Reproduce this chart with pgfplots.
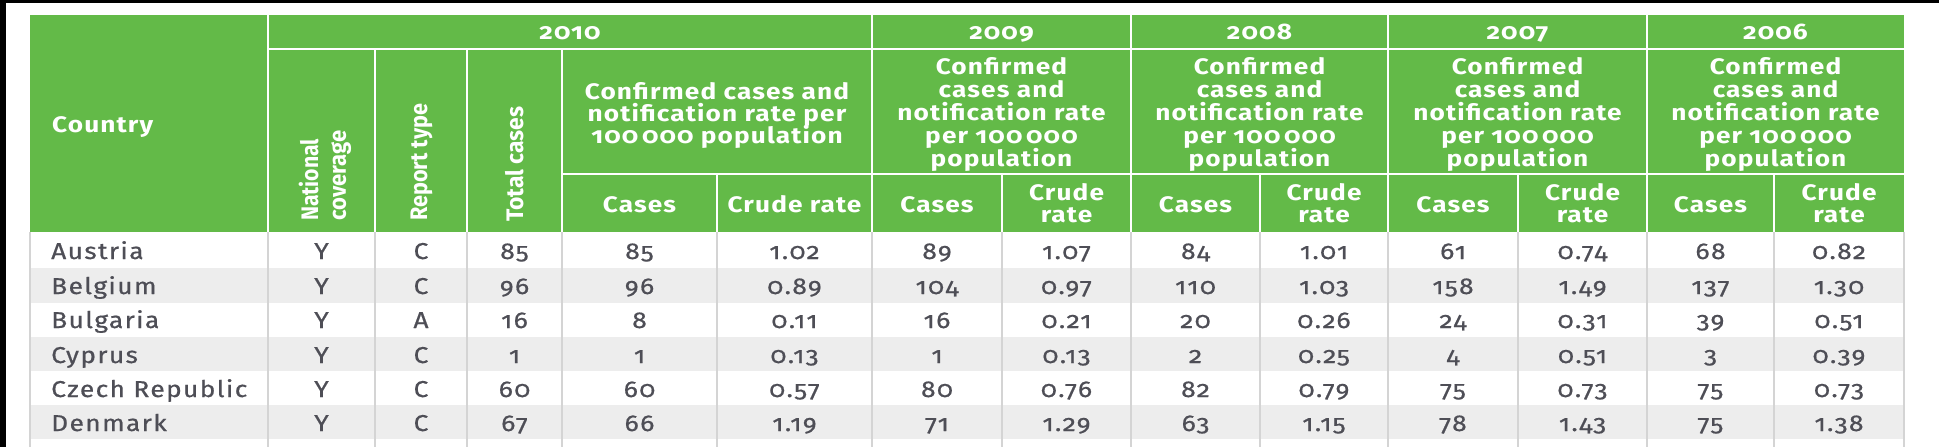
\documentclass[border=0pt]{standalone}
\usepackage{fontspec}
\setmainfont{Fira Sans}[Numbers=OldStyle]
\newfontfamily\dfam{Fira Sans}[Numbers=OldStyle, LetterSpace=6, FakeStretch=1.15, FakeBold=0.6]
\newfontfamily\hfam{Fira Sans}[Numbers=OldStyle, LetterSpace=5, FakeStretch=1.17]
\usepackage{graphicx}
\usepackage{pgfplots}
\usepackage{pgfplotstable}
\pgfplotsset{compat=1.18}

\definecolor{hdr}{RGB}{99,186,72}
\definecolor{stripe}{RGB}{237,237,237}
\definecolor{txt}{RGB}{78,78,86}
\definecolor{gridc}{RGB}{212,212,212}

\newcommand\dfont{\dfam\fontsize{23}{24}\selectfont}
\newcommand\hfont{\hfam\bfseries\fontsize{22.5}{23}\selectfont}
\newcommand\rfont{\rmfamily\bfseries\fontsize{24}{28}\selectfont}

\pgfplotstableread[col sep=comma]{
country,nc,rt,total,c10,r10,c09,r09,c08,r08,c07,r07,c06,r06,yb
Austria,Y,C,85,85,1.02,89,1.07,84,1.01,61,0.74,68,0.82,259
Belgium,Y,C,96,96,0.89,104,0.97,110,1.03,158,1.49,137,1.30,294
Bulgaria,Y,A,16,8,0.11,16,0.21,20,0.26,24,0.31,39,0.51,328
Cyprus,Y,C,1,1,0.13,1,0.13,2,0.25,4,0.51,3,0.39,363
Czech Republic,Y,C,60,60,0.57,80,0.76,82,0.79,75,0.73,75,0.73,397
Denmark,Y,C,67,66,1.19,71,1.29,63,1.15,78,1.43,75,1.38,431
}\data

\pgfplotsset{
  dcol/.style={draw=none, mark=none, nodes near coords, point meta=explicit symbolic,
    nodes near coords align={anchor=base},
    every node near coord/.append style={font=\dfont, text=txt, inner sep=0pt}},
}
\tikzset{ht/.style={anchor=base, text=white, font=\hfont, inner sep=0pt}}

\newcommand\fiveblock[1]{%
  \node[ht] at (axis cs:#1,75) {Confirmed};
  \node[ht] at (axis cs:#1,97.75) {cases and};
  \node[ht] at (axis cs:#1,120.5) {notification rate};
  \node[ht] at (axis cs:#1,143.25) {per 100\,000};
  \node[ht] at (axis cs:#1,166) {population};
}

\begin{document}
\begin{tikzpicture}
\begin{axis}[width=1939bp, height=447bp, scale only axis,
  xmin=0, xmax=1939, ymin=0, ymax=447, y dir=reverse,
  hide axis, clip=false, unbounded coords=jump]
% background and frame
\addplot[fill=white, draw=none] coordinates {(0,0) (1939,0) (1939,447) (0,447)} -- cycle;
\addplot[fill=black, draw=none] coordinates {(0,0) (1939,0) (1939,3) (0,3)} -- cycle;
\addplot[fill=black, draw=none] coordinates {(0,0) (6,0) (6,447) (0,447)} -- cycle;
% header
\addplot[fill=hdr, draw=none] coordinates {(30,15) (1904,15) (1904,232) (30,232)} -- cycle;
% stripes
\addplot[fill=stripe, draw=none] coordinates {(30,268) (1904,268) (1904,303) (30,303)} -- cycle;
\addplot[fill=stripe, draw=none] coordinates {(30,337) (1904,337) (1904,371) (30,371)} -- cycle;
\addplot[fill=stripe, draw=none] coordinates {(30,405) (1904,405) (1904,439) (30,439)} -- cycle;
% grey column rules in the body
\addplot[gridc, line width=1.5bp] coordinates {
 (30,232) (30,447) (30,nan)
 (268,232) (268,447) (268,nan)
 (375,232) (375,447) (375,nan)
 (467,232) (467,447) (467,nan)
 (562,232) (562,447) (562,nan)
 (717,232) (717,447) (717,nan)
 (872,232) (872,447) (872,nan)
 (1002,232) (1002,447) (1002,nan)
 (1131,232) (1131,447) (1131,nan)
 (1260,232) (1260,447) (1260,nan)
 (1388,232) (1388,447) (1388,nan)
 (1518,232) (1518,447) (1518,nan)
 (1647,232) (1647,447) (1647,nan)
 (1774,232) (1774,447) (1774,nan)
 (1904,232) (1904,447)};
% white header rules
\addplot[white, line width=2bp] coordinates {
 (268,15) (268,232) (268,nan)
 (872,15) (872,232) (872,nan)
 (1131,15) (1131,232) (1131,nan)
 (1388,15) (1388,232) (1388,nan)
 (1647,15) (1647,232) (1647,nan)
 (375,49) (375,232) (375,nan)
 (467,49) (467,232) (467,nan)
 (562,49) (562,232) (562,nan)
 (268,49) (1904,49) (1904,nan)
 (562,174) (1904,174) (1904,nan)
 (717,174) (717,232) (717,nan)
 (1002,174) (1002,232) (1002,nan)
 (1260,174) (1260,232) (1260,nan)
 (1518,174) (1518,232) (1518,nan)
 (1774,174) (1774,232)};
% header text
\node[ht, anchor=base west] at (axis cs:52,132) {Country};
\node[ht] at (axis cs:570,40) {2010};
\node[ht] at (axis cs:1001.5,40) {2009};
\node[ht] at (axis cs:1259.5,40) {2008};
\node[ht] at (axis cs:1517.5,40) {2007};
\node[ht] at (axis cs:1775.5,40) {2006};
\node[ht] at (axis cs:717,99) {Confirmed cases and};
\node[ht] at (axis cs:717,121) {notification rate per};
\node[ht] at (axis cs:717,143) {100\,000 population};
\fiveblock{1001.5}
\fiveblock{1259.5}
\fiveblock{1517.5}
\fiveblock{1775.5}
\node[ht] at (axis cs:639.5,212) {Cases};
\node[ht] at (axis cs:794.5,212) {Crude rate};
\node[ht] at (axis cs:937,212) {Cases};
\node[ht] at (axis cs:1195.5,212) {Cases};
\node[ht] at (axis cs:1453,212) {Cases};
\node[ht] at (axis cs:1710.5,212) {Cases};
\node[ht] at (axis cs:1066.5,200) {Crude};
\node[ht] at (axis cs:1066.5,222.5) {rate};
\node[ht] at (axis cs:1324,200) {Crude};
\node[ht] at (axis cs:1324,222.5) {rate};
\node[ht] at (axis cs:1582.5,200) {Crude};
\node[ht] at (axis cs:1582.5,222.5) {rate};
\node[ht] at (axis cs:1839,200) {Crude};
\node[ht] at (axis cs:1839,222.5) {rate};
\node[text=white, font=\rfont, inner sep=0pt, rotate=90, anchor=west, align=left]
  at (axis cs:325,221) {\resizebox{82bp}{\height}{National}\\\resizebox{90bp}{\height}{coverage}};
\node[text=white, font=\rfont, inner sep=0pt, rotate=90, anchor=west]
  at (axis cs:421.5,221) {\resizebox{117bp}{\height}{Report type}};
\node[text=white, font=\rfont, inner sep=0pt, rotate=90, anchor=west]
  at (axis cs:515,222) {\resizebox{115bp}{\height}{Total cases}};
% body values
\addplot[dcol, nodes near coords align={anchor=base west}] table[x expr=51, y=yb, meta=country] {\data};
\addplot[dcol] table[x expr=321.5, y=yb, meta=nc] {\data};
\addplot[dcol] table[x expr=421, y=yb, meta=rt] {\data};
\addplot[dcol] table[x expr=514.5, y=yb, meta=total] {\data};
\addplot[dcol] table[x expr=639.5, y=yb, meta=c10] {\data};
\addplot[dcol] table[x expr=794.5, y=yb, meta=r10] {\data};
\addplot[dcol] table[x expr=937, y=yb, meta=c09] {\data};
\addplot[dcol] table[x expr=1066.5, y=yb, meta=r09] {\data};
\addplot[dcol] table[x expr=1195.5, y=yb, meta=c08] {\data};
\addplot[dcol] table[x expr=1324, y=yb, meta=r08] {\data};
\addplot[dcol] table[x expr=1453, y=yb, meta=c07] {\data};
\addplot[dcol] table[x expr=1582.5, y=yb, meta=r07] {\data};
\addplot[dcol] table[x expr=1710.5, y=yb, meta=c06] {\data};
\addplot[dcol] table[x expr=1839, y=yb, meta=r06] {\data};
\end{axis}
\end{tikzpicture}
\end{document}
